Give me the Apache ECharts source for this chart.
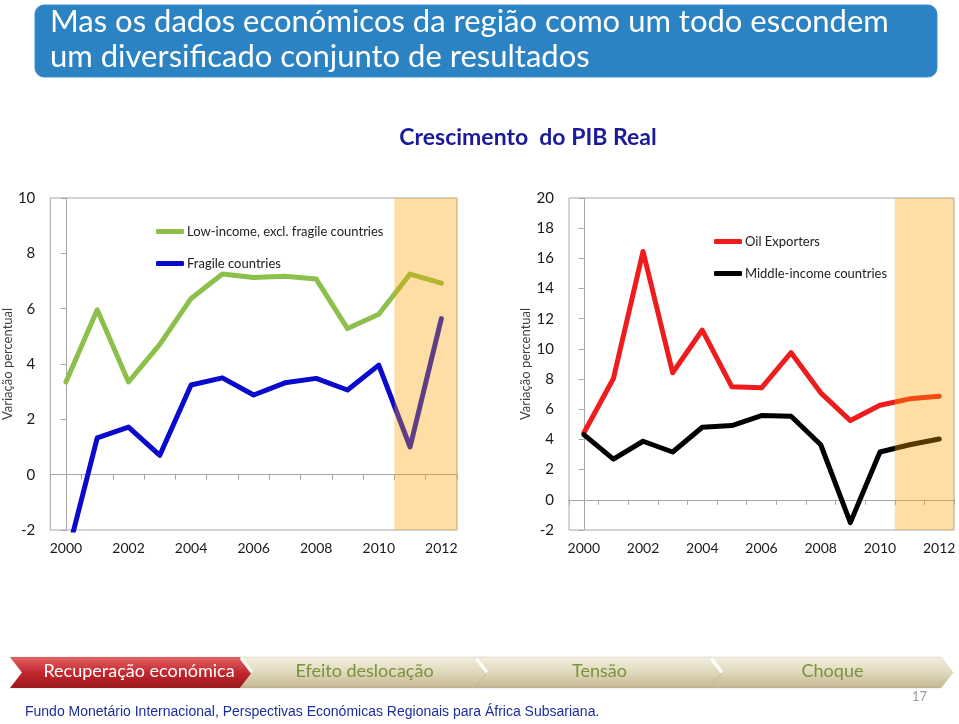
<!DOCTYPE html>
<html><head><meta charset="utf-8">
<script src="https://cdn.jsdelivr.net/npm/echarts@6/dist/echarts.min.js"></script>
<style>html,body{margin:0;padding:0;background:#fff}#c{width:959px;height:724px}</style>
</head><body><div id="c"></div>
<script>
// ---- data ----
const years = ['2000','2001','2002','2003','2004','2005','2006','2007','2008','2009','2010','2011','2012'];
const forecastYears = ['2011','2012'];
const lowIncome    = [3.35, 5.96, 3.35, 4.71, 6.37, 7.25, 7.13, 7.17, 7.07, 5.28, 5.80, 7.25, 6.92];
const fragile      = [-3.1, 1.33, 1.72, 0.70, 3.24, 3.50, 2.88, 3.32, 3.48, 3.06, 3.96, 1.00, 5.64];
const oilExporters = [4.43, 8.04, 16.46, 8.42, 11.25, 7.49, 7.42, 9.75, 7.09, 5.25, 6.27, 6.69, 6.87];
const middleIncome = [4.32, 2.70, 3.88, 3.17, 4.81, 4.92, 5.58, 5.54, 3.65, -1.51, 3.17, 3.65, 4.03];
const leftAxisRange  = [-2, 10];
const rightAxisRange = [-2, 20];
const axisStep = 2;
const legendLeft  = ['Low-income, excl. fragile countries', 'Fragile countries'];
const legendRight = ['Oil Exporters', 'Middle-income countries'];
const yAxisTitle = 'Variação percentual';
const chartTitle = 'Crescimento  do PIB Real';
const slideTitle = 'Mas os dados económicos da região como um todo escondem\num diversificado conjunto de resultados';
const stages = ['Recuperação económica', 'Efeito deslocação', 'Tensão', 'Choque'];
const sourceNote = 'Fundo Monetário Internacional, Perspectivas Económicas Regionais para África Subsariana.';
const pageNumber = '17';

// ---- styles ----
const FONT = 'Lato, "Open Sans", sans-serif';
const axisGray = '#A6A6A6';
const textDark = '#1a1a1a';
const bandColor = 'rgba(255,160,0,0.35)';
const colors = { low: '#8DC04B', fragile: '#0A0ACC', oil: '#EE1C1C', mid: '#000000' };

const bandStart = years.indexOf(forecastYears[0]) - 0.5;
const bandEnd = years.length - 0.5;

const grids = [
  { left: 43, top: 198, width: 414, height: 332 },
  { left: 569, top: 198, width: 385, height: 332 }
];

function xAxesFor(g) {
  return [
    { type: 'category', gridIndex: g, data: years, position: 'bottom', boundaryGap: true,
      axisLine: { show: false, onZero: false }, axisTick: { show: false },
      axisLabel: { interval: 1, fontSize: 14, color: textDark, margin: 11, fontFamily: FONT } },
    { type: 'category', gridIndex: g, data: years, position: 'top', boundaryGap: true,
      axisLine: { show: true, onZero: true, lineStyle: { color: axisGray, width: 1 } },
      axisTick: { show: true, inside: true, interval: 0, length: 5, lineStyle: { color: axisGray } },
      axisLabel: { show: false } },
    { type: 'value', gridIndex: g, min: -0.5, max: years.length - 0.5, show: false }
  ];
}
function yAxisFor(g, range, gap) {
  return { type: 'value', gridIndex: g, min: range[0], max: range[1], interval: axisStep,
    axisLine: { show: true, lineStyle: { color: axisGray } },
    axisTick: { show: true, length: 5, lineStyle: { color: axisGray } },
    splitLine: { show: false },
    axisLabel: { fontSize: 15, color: textDark, margin: 15, fontFamily: FONT },
    name: yAxisTitle, nameLocation: 'middle', nameGap: gap, nameRotate: 90,
    nameTextStyle: { fontSize: 13, color: '#404040', fontFamily: FONT } };
}
function lineSeries(name, data, color, xi, yi) {
  return { type: 'line', name, data, xAxisIndex: xi, yAxisIndex: yi, showSymbol: false, symbol: 'none',
    silent: true, animation: false, z: 2,
    lineStyle: { width: 5, color, cap: 'round', join: 'round' }, itemStyle: { color } };
}
function bandSeries(xi, yi) {
  return { type: 'line', data: [], xAxisIndex: xi, yAxisIndex: yi, silent: true, animation: false,
    markArea: { silent: true, z: 10, animation: false, itemStyle: { color: bandColor },
      data: [[{ xAxis: bandStart }, { xAxis: bandEnd }]] } };
}
function legendFor(names, left, top) {
  return { data: names, left, top, orient: 'vertical', itemGap: 19, itemWidth: 28, itemHeight: 5,
    icon: 'roundRect', selectedMode: false,
    textStyle: { fontSize: 13, color: '#222', fontFamily: FONT, padding: [0, 0, 0, -2] } };
}

// banner graphics
const bTop = 657, bBot = 688, bMid = (bTop + bBot) / 2, notch = 12;
const segX = [10, 240, 475, 710, 941];
const bannerEls = [];
for (let i = 0; i < stages.length; i++) {
  const x0 = segX[i], x1 = segX[i + 1];
  const red = i === 0;
  bannerEls.push({ type: 'polygon', silent: true,
    shape: { points: [[x0, bTop], [x1, bTop], [x1 + notch, bMid], [x1, bBot], [x0, bBot], [x0 + notch, bMid]] },
    style: { fill: red
      ? new echarts.graphic.LinearGradient(0, 0, 0, 1, [{ offset: 0, color: '#E46467' }, { offset: 0.5, color: '#C3282E' }, { offset: 1, color: '#9C161C' }])
      : new echarts.graphic.LinearGradient(0, 0, 0, 1, [{ offset: 0, color: '#F4F0E1' }, { offset: 0.5, color: '#E0D8BC' }, { offset: 1, color: '#C4B891' }]),
      stroke: 'rgba(120,110,80,0.35)', lineWidth: 0.5 } });
  if (!red) {
    bannerEls.push({ type: 'polyline', silent: true,
      shape: { points: [[x0 + 1, bTop + 1], [x0 + notch, bMid]] },
      style: { stroke: 'rgba(255,255,255,0.95)', lineWidth: 3 } });
  }
  bannerEls.push({ type: 'text', silent: true, x: (x0 + x1) / 2 + (red ? 14 : 7), y: bMid - 1,
    style: { text: stages[i], fill: red ? '#ffffff' : '#77933C', font: '18px ' + FONT,
      align: 'center', verticalAlign: 'middle' } });
}

const option = {
  backgroundColor: '#ffffff',
  animation: false,
  grid: grids.map(g => Object.assign({ show: true, borderColor: axisGray, borderWidth: 1, backgroundColor: 'transparent' }, g)),
  xAxis: [...xAxesFor(0), ...xAxesFor(1)],
  yAxis: [yAxisFor(0, leftAxisRange, 29), yAxisFor(1, rightAxisRange, 37)],
  legend: [legendFor(legendLeft, 151, 220), legendFor(legendRight, 709, 230)],
  series: [
    lineSeries(legendLeft[0], lowIncome, colors.low, 0, 0),
    lineSeries(legendLeft[1], fragile, colors.fragile, 0, 0),
    bandSeries(2, 0),
    lineSeries(legendRight[0], oilExporters, colors.oil, 3, 1),
    lineSeries(legendRight[1], middleIncome, colors.mid, 3, 1),
    bandSeries(5, 1)
  ],
  graphic: [
    { type: 'rect', silent: true, shape: { x: 35, y: 5, width: 902, height: 72, r: 9 },
      style: { fill: '#2B83C3', stroke: '#3A8FCC', lineWidth: 1 } },
    { type: 'text', silent: true, x: 50, y: 4,
      style: { text: slideTitle, fill: '#ffffff', font: '31px ' + FONT, lineHeight: 35, align: 'left', verticalAlign: 'top' } },
    { type: 'text', silent: true, x: 528, y: 138,
      style: { text: chartTitle, fill: '#1A1A9A', font: 'bold 23px ' + FONT, align: 'center', verticalAlign: 'middle' } },
    ...bannerEls,
    { type: 'text', silent: true, x: 25, y: 712,
      style: { text: sourceNote, fill: '#1C2E9C', font: '14px "Liberation Sans Narrow", "Liberation Sans", Arial, sans-serif', align: 'left', verticalAlign: 'middle' } },
    { type: 'text', silent: true, x: 927, y: 697,
      style: { text: pageNumber, fill: '#9a9a9a', font: '13px ' + FONT, align: 'right', verticalAlign: 'middle' } }
  ]
};

const chart = echarts.init(document.getElementById('c'), null, { renderer: 'canvas' });
chart.setOption(option);
</script>
</body></html>
